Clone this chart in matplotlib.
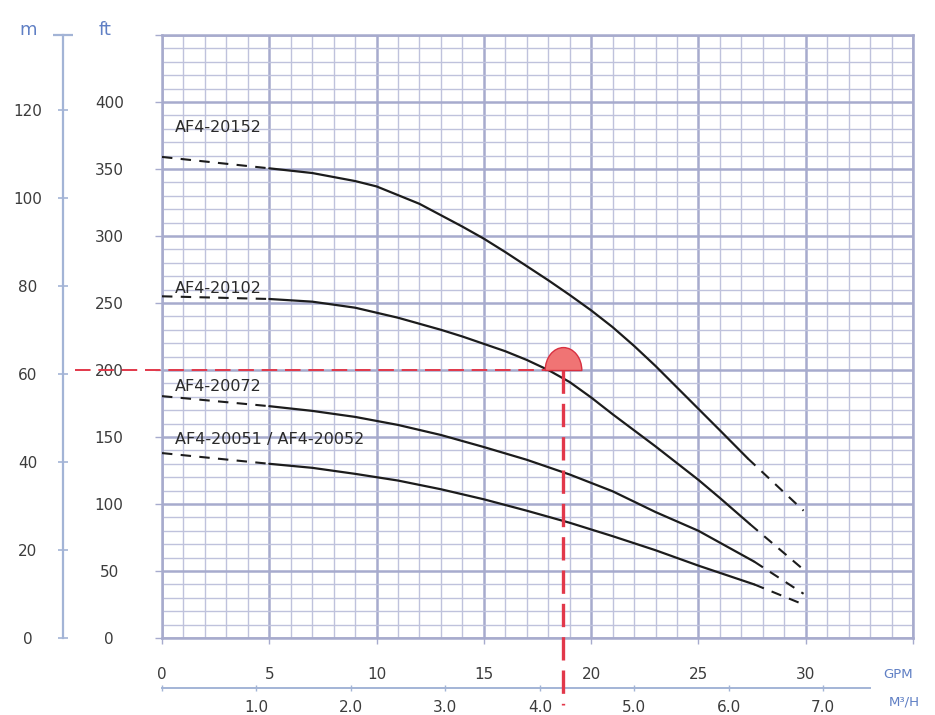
import matplotlib
matplotlib.use('Agg')
import matplotlib.pyplot as plt
from matplotlib.ticker import MultipleLocator, FuncFormatter
from matplotlib.path import Path
import numpy as np

# ---------------- data ----------------
FT_PER_M = 3.28084
GPM_PER_M3H = 4.40287

gpm_ticks = [0, 5, 10, 15, 20, 25, 30]
ft_ticks = [0, 50, 100, 150, 200, 250, 300, 350, 400]
m_ticks = [0, 20, 40, 60, 80, 100, 120]
m3h_ticks = [0, 1, 2, 3, 4, 5, 6, 7]
m3h_labels = ['', '1.0', '2.0', '3.0', '4.0', '5.0', '6.0', '7.0']

# AF4-20152
c1_dash_l_q = [0, 5]
c1_dash_l_h = [359, 350.5]
c1_q = [5, 7, 9, 10, 12, 14, 15, 16, 18, 19, 20, 21, 22, 23, 24, 25, 26, 27.3]
c1_h = [350.5, 347, 341, 337, 324, 307, 298, 288, 267, 256, 244.5, 232, 218, 203, 187, 171, 155, 134]
c1_dash_r_q = [27.3, 29.9]
c1_dash_r_h = [134, 95]

# AF4-20102
c2_dash_l_q = [0, 5]
c2_dash_l_h = [255, 253]
c2_q = [5, 7, 9, 11, 13, 14, 16, 17, 18, 19, 20, 21, 22, 23, 24, 25, 26, 27.4]
c2_h = [253, 251, 246.5, 239, 230, 225, 214, 207.5, 200, 191, 179.5, 167, 155, 143, 130.5, 118, 104.5, 85]
c2_dash_r_q = [27.4, 29.9]
c2_dash_r_h = [85, 51]

# AF4-20072
c3_dash_l_q = [0, 5]
c3_dash_l_h = [180.5, 173]
c3_q = [5, 7, 9, 11, 13, 15, 17, 19, 21, 23, 25, 27.6]
c3_h = [173, 169.5, 165, 159, 151.5, 142.5, 133, 122, 109.5, 94, 80, 57]
c3_dash_r_q = [27.6, 29.9]
c3_dash_r_h = [57, 33]

# AF4-20051 / AF4-20052
c4_dash_l_q = [0, 5]
c4_dash_l_h = [138, 130]
c4_q = [5, 7, 9, 11, 13, 15, 17, 19, 21, 23, 25, 27.6]
c4_h = [130, 127, 122.5, 117.5, 111, 103.5, 95, 86, 76, 65.5, 54, 40]
c4_dash_r_q = [27.6, 29.9]
c4_dash_r_h = [40, 25]

curve_names = ['AF4-20152', 'AF4-20102', 'AF4-20072', 'AF4-20051 / AF4-20052']
label_q = [0.6, 0.6, 0.6, 0.6]
label_h = [381, 261, 188, 148]

op_flow = 18.7   # GPM
op_head = 200    # ft

# ---------------- style ----------------
minor_c = '#bfc2dc'
major_c = '#a7abcd'
axis_c = '#a3b4d6'
text_c = '#3c3c3c'
unit_c = '#5f7fc4'
curve_c = '#1c1c1c'
red_c = '#e2384a'

fig = plt.figure(figsize=(9.35, 7.15), dpi=100)
ax = fig.add_axes([162/935, 77/715, 751/935, 603/715])
ax.set_xlim(0, 35)
ax.set_ylim(0, 450)

ax.xaxis.set_major_locator(MultipleLocator(5))
ax.xaxis.set_minor_locator(MultipleLocator(1))
ax.yaxis.set_major_locator(MultipleLocator(50))
ax.yaxis.set_minor_locator(MultipleLocator(10))
ax.xaxis.set_major_formatter(FuncFormatter(lambda v, p: f'{v:.0f}' if v <= max(gpm_ticks) else ''))
ax.yaxis.set_major_formatter(FuncFormatter(lambda v, p: f'{v:.0f}' if v <= max(ft_ticks) else ''))

ax.set_axisbelow(True)
ax.grid(which='minor', color=minor_c, lw=1.0)
ax.grid(which='major', color=major_c, lw=1.8)
for s in ax.spines.values():
    s.set_color(major_c)
    s.set_linewidth(1.8)

ax.tick_params(axis='x', which='major', direction='out', length=4, width=1,
               color=major_c, pad=17, labelsize=11, labelcolor=text_c)
ax.tick_params(axis='y', which='major', direction='out', length=5, width=1,
               color=major_c, pad=33, labelsize=11, labelcolor=text_c)
ax.tick_params(which='minor', length=0)
for lab in ax.get_yticklabels():
    lab.set_ha('center')

# metre axis
secy = ax.secondary_yaxis(-99/751, functions=(lambda f: f / FT_PER_M, lambda m: m * FT_PER_M))
secy.set_ticks(m_ticks, labels=[str(v) for v in m_ticks])
secy.set_ticks([450 / FT_PER_M], minor=True)
secy.spines['left'].set_color(axis_c)
secy.spines['left'].set_linewidth(1.6)
secy.tick_params(which='major', direction='inout', length=7, width=1.2, color=axis_c,
                 pad=22, labelsize=11, labelcolor=text_c)
secy.tick_params(which='minor', direction='inout', length=14, width=1.6, color=axis_c)
for lab in secy.get_yticklabels():
    lab.set_ha('center')

# m3/h axis
secx = ax.secondary_xaxis(-50/603, functions=(lambda g: g / GPM_PER_M3H, lambda q: q * GPM_PER_M3H))
secx.set_ticks(m3h_ticks, labels=m3h_labels)
secx.spines['bottom'].set_color(axis_c)
secx.spines['bottom'].set_linewidth(1.4)
secx.spines['bottom'].set_bounds(0, 33 / GPM_PER_M3H)
secx.tick_params(which='major', direction='inout', length=5, width=1, color=axis_c,
                 pad=6, labelsize=11, labelcolor=text_c)

# curves
solid = [(c1_q, c1_h), (c2_q, c2_h), (c3_q, c3_h), (c4_q, c4_h)]
dash_l = [(c1_dash_l_q, c1_dash_l_h), (c2_dash_l_q, c2_dash_l_h),
          (c3_dash_l_q, c3_dash_l_h), (c4_dash_l_q, c4_dash_l_h)]
dash_r = [(c1_dash_r_q, c1_dash_r_h), (c2_dash_r_q, c2_dash_r_h),
          (c3_dash_r_q, c3_dash_r_h), (c4_dash_r_q, c4_dash_r_h)]
for (q, h), (ql, hl), (qr, hr) in zip(solid, dash_l, dash_r):
    ax.plot(q, h, color=curve_c, lw=1.6, solid_capstyle='round', solid_joinstyle='round', zorder=3)
    ax.plot(ql, hl, color=curve_c, lw=1.5, dashes=(5, 4), zorder=3)
    ax.plot(qr, hr, color=curve_c, lw=1.5, dashes=(5, 4), zorder=3)

for name, lq, lh in zip(curve_names, label_q, label_h):
    ax.text(lq, lh, name, fontsize=11.5, color='#2a2a2a', ha='left', va='center', zorder=4)

# operating point
xmin_ax = -87/751
ax.plot([xmin_ax, (op_flow - 0.85) / 35], [op_head, op_head], transform=ax.get_yaxis_transform(),
        color=red_c, lw=1.4, dashes=(8, 4), clip_on=False, zorder=5)
ax.plot([op_flow, op_flow], [op_head / 450, -67/603], transform=ax.get_xaxis_transform(),
        color=red_c, lw=2.4, dashes=(7, 3), clip_on=False, zorder=5)

arc = Path.arc(0, 180)
verts = arc.vertices * np.array([1.0, 1.25])
dome = Path(np.vstack([verts, verts[:1]]), np.append(arc.codes, Path.CLOSEPOLY))
ax.plot([op_flow], [op_head], marker=dome, markersize=33, markerfacecolor='#f07474',
        markeredgecolor='#d83040', markeredgewidth=1.0, linestyle='none', zorder=6, clip_on=False)

# unit labels
fig.text(28/935, 1 - 30/715, 'm', color=unit_c, fontsize=13, ha='center', va='center')
fig.text(105/935, 1 - 30/715, 'ft', color=unit_c, fontsize=13, ha='center', va='center')
fig.text(898/935, 1 - 674/715, 'GPM', color=unit_c, fontsize=9.5, ha='center', va='center')
fig.text(904/935, 1 - 702/715, 'M³/H', color=unit_c, fontsize=9.5, ha='center', va='center')

fig.savefig('out.png', dpi=100)
